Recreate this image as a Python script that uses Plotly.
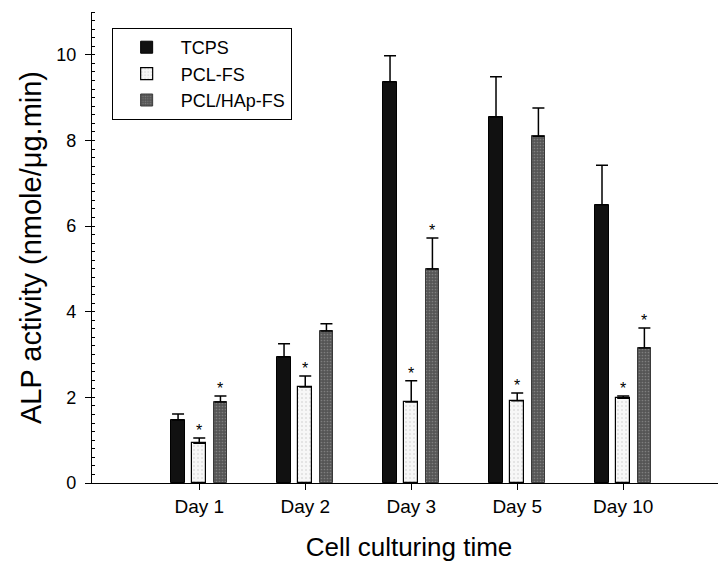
import plotly.graph_objects as go

days = ["Day 1", "Day 2", "Day 3", "Day 5", "Day 10"]
tcps = [1.47, 2.94, 9.37, 8.55, 6.50]
tcps_err = [0.14, 0.31, 0.61, 0.94, 0.92]
pcl = [0.93, 2.24, 1.89, 1.92, 1.98]
pcl_err = [0.12, 0.26, 0.50, 0.18, 0.05]
hap = [1.89, 3.55, 5.00, 8.10, 3.15]
hap_err = [0.14, 0.17, 0.72, 0.66, 0.47]
pcl_star = [True, True, True, True, True]
hap_star = [True, False, True, False, True]

FONT = "Liberation Sans, Arial, sans-serif"
W = 0.13

fig = go.Figure()

def err(a):
    return dict(type="data", array=a, symmetric=False, arrayminus=[0]*len(a),
                color="black", thickness=1.5, width=6)

fig.add_trace(go.Bar(name="TCPS", x=days, y=tcps, width=W, offset=-0.265,
                     marker=dict(color="#111111", line=dict(color="black", width=1)),
                     error_y=err(tcps_err)))
fig.add_trace(go.Bar(name="PCL-FS", x=days, y=pcl, width=W, offset=-0.065,
                     marker=dict(color="#f4f4f4", line=dict(color="black", width=1.2),
                                 pattern=dict(shape=".", fgcolor="#c4c4c4", bgcolor="#f7f7f7",
                                              size=4, solidity=0.2)),
                     error_y=err(pcl_err)))
fig.add_trace(go.Bar(name="PCL/HAp-FS", x=days, y=hap, width=W, offset=0.135,
                     marker=dict(color="#5a5a5a", line=dict(color="#3a3a3a", width=1),
                                 pattern=dict(shape=".", fgcolor="#a8a8a8", bgcolor="#555555",
                                              size=3, solidity=0.25)),
                     error_y=err(hap_err)))

annotations = []
for i, d in enumerate(days):
    if pcl_star[i]:
        annotations.append(dict(x=i - 0.065 + W / 2, y=pcl[i] + pcl_err[i], xref="x", yref="y",
                                text="*", showarrow=False, yanchor="bottom", yshift=-3,
                                font=dict(family=FONT, size=16, color="black")))
    if hap_star[i]:
        annotations.append(dict(x=i + 0.135 + W / 2, y=hap[i] + hap_err[i], xref="x", yref="y",
                                text="*", showarrow=False, yanchor="bottom", yshift=-3,
                                font=dict(family=FONT, size=16, color="black")))

fig.update_layout(
    width=718, height=555,
    margin=dict(l=84, r=0, t=4, b=80),
    paper_bgcolor="white", plot_bgcolor="white",
    font=dict(family=FONT, color="black"),
    showlegend=True,
    legend=dict(x=0.031, y=0.966, xanchor="left", yanchor="top",
                bordercolor="black", borderwidth=1, bgcolor="white",
                font=dict(family=FONT, size=18), traceorder="normal",
                itemwidth=58, tracegroupgap=0),
    annotations=annotations,
    bargap=0,
)
fig.update_xaxes(
    type="category", range=[-1.012, 4.97],
    showline=True, linecolor="black", linewidth=1.2,
    ticks="outside", ticklen=6, tickwidth=1.2, tickcolor="black",
    tickfont=dict(family=FONT, size=19),
    title=dict(text="Cell culturing time", font=dict(family=FONT, size=26), standoff=21),
    showgrid=False, zeroline=False,
)
fig.update_yaxes(
    range=[0, 11.0], tickvals=[0, 2, 4, 6, 8, 10],
    showline=True, linecolor="black", linewidth=1.2,
    ticks="outside", ticklen=6, tickwidth=1.2, tickcolor="black",
    ticklabelstandoff=5,
    tickfont=dict(family=FONT, size=18),
    minor=dict(dtick=0.2, ticks="inside", ticklen=3, tickcolor="black", tickwidth=1),
    title=dict(text="ALP activity (nmole/μg.min)", font=dict(family=FONT, size=29), standoff=6),
    showgrid=False, zeroline=False,
)

fig.write_html("out.html")
